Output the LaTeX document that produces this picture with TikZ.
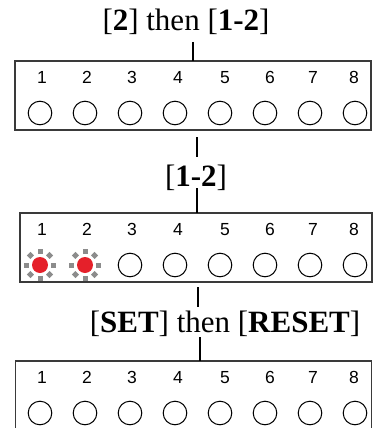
\documentclass[tikz,border=0pt]{standalone}
\usepackage{fontspec}
\setmainfont{Liberation Serif}
\newfontfamily\digitfont{Liberation Sans}

\definecolor{ledred}{HTML}{E5202A}
\definecolor{ledgrey}{HTML}{8C8C8C}
\definecolor{framegrey}{HTML}{3A3A3A}

\tikzset{
    panel/.style={draw=framegrey, line width=1.3pt, minimum width=356pt,
        minimum height=69pt, inner sep=0pt, outer sep=0pt},
    openpanel/.style={panel, draw=none},
    link/.style={line width=2pt},
    keylabel/.style={font=\fontsize{31}{31}\selectfont, inner sep=0pt},
    ledno/.style={font=\digitfont\fontsize{17.5}{17.5}\selectfont, inner sep=0pt, anchor=base},
    spark/.style={fill=ledgrey, minimum size=5pt, inner sep=0pt}
}

\begin{document}
\begin{tikzpicture}[x=1pt, y=-1pt]
    \useasboundingbox (0,0) rectangle (381,428);

    % Tasten
    \node[keylabel] (lab1) at (186,21.5) {[\textbf{2}] then [\textbf{1-2}]};
    \node[keylabel] (lab2) at (196,178) {[\textbf{1-2}]};
    \node[keylabel] (lab3) at (225,324) {[\textbf{SET}] then [\textbf{RESET}]};

    % Anzeigen
    \node[panel] (panel1) at (193,95.5) {};
    \node[panel, minimum width=352pt] (panel2) at (196,247.5) {};
    \node[openpanel] (panel3) at (193.5,395.5) {};
    \draw[framegrey, line width=1.3pt] (panel3.south west) -- (panel3.north west)
        -- (panel3.north east) -- (panel3.south east);

    % Nummern und LEDs
    \foreach \py in {61,213,361}
    {
        \foreach \i/\xn/\xc in {1/42/40, 2/87/85, 3/132/130, 4/178/175,
                                5/225/220, 6/270/265, 7/313/310, 8/354/355}
        {
            \node[ledno] at (\xn,\py+22.5) {\i};
            \draw[line width=1pt] (\xc,\py+52) circle (11.8);
        }
    }

    % leuchtende LEDs
    \foreach \xc in {40,85}
    {
        \fill[white] (\xc,265) circle (13);
        \fill[ledred] (\xc,265) circle (8);
        \foreach \a in {0,45,...,315}
            \path (\xc,265) ++(\a:13.5) node[spark, rotate=\a] {};
    }

    % Verbindungen
    \coordinate (c1) at (193,42);
    \coordinate (c2) at (197,137);
    \coordinate (c3) at (197,157);
    \coordinate (c4) at (197,188);
    \coordinate (c5) at (198,287);
    \coordinate (c6) at (198,307);
    \coordinate (c7) at (200,337);
    \draw[link] (c1) -- (c1 |- panel1.north);
    \draw[link] (c2) -- (c3);
    \draw[link] (c4) -- (c4 |- panel2.north);
    \draw[link] (c5) -- (c6);
    \draw[link] (c7) -- (c7 |- panel3.north);
\end{tikzpicture}
\end{document}
